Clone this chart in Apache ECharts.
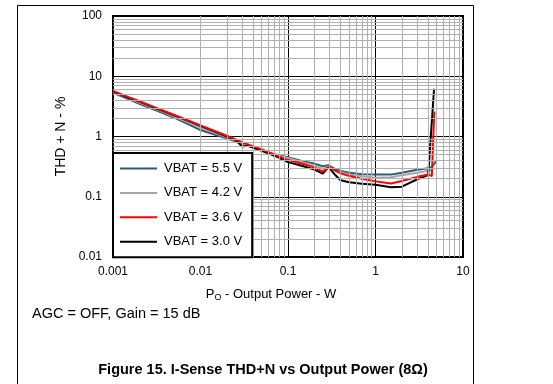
<!DOCTYPE html>
<html><head><meta charset="utf-8">
<script src="https://cdn.jsdelivr.net/npm/echarts@6/dist/echarts.min.js"></script>
<style>html,body{margin:0;padding:0;background:#fff}#c{width:553px;height:384px}</style>
</head><body><div id="c"></div>
<script>
// ---- data ----
const xTicks = [0.001, 0.01, 0.1, 1, 10];
const yTicks = [0.01, 0.1, 1, 10, 100];
const seriesNames = ['VBAT = 5.5 V', 'VBAT = 4.2 V', 'VBAT = 3.6 V', 'VBAT = 3.0 V'];
const seriesColors = ['#2f5a72', '#a6a6a6', '#ff0000', '#000000'];

const p55   = [0.001, 0.0015, 0.002, 0.003, 0.005, 0.007, 0.01, 0.015, 0.02, 0.03, 0.05, 0.07, 0.1, 0.15, 0.2, 0.25, 0.29, 0.35, 0.4, 0.5, 0.7, 1, 1.5, 2, 3, 4, 4.4, 5];
const thd55 = [5.3, 4.16, 3.5, 2.77, 2.05, 1.63, 1.28, 1.06, 0.93, 0.76, 0.59, 0.51, 0.455, 0.385, 0.355, 0.32, 0.335, 0.285, 0.267, 0.25, 0.237, 0.233, 0.233, 0.25, 0.28, 0.297, 0.31, 0.40];

const p42   = [0.001, 0.0015, 0.002, 0.003, 0.005, 0.007, 0.01, 0.015, 0.02, 0.03, 0.05, 0.07, 0.1, 0.15, 0.2, 0.25, 0.29, 0.35, 0.4, 0.5, 0.7, 1, 1.5, 2, 3, 4, 4.4];
const thd42 = [5.5, 4.35, 3.65, 2.9, 2.15, 1.75, 1.4, 1.13, 0.97, 0.78, 0.6, 0.5, 0.44, 0.37, 0.33, 0.29, 0.32, 0.265, 0.255, 0.235, 0.218, 0.207, 0.21, 0.227, 0.25, 0.27, 0.275];

const p36   = [0.001, 0.0015, 0.002, 0.003, 0.005, 0.007, 0.01, 0.015, 0.02, 0.03, 0.05, 0.07, 0.1, 0.15, 0.2, 0.25, 0.29, 0.34, 0.4, 0.47, 0.67, 1, 1.5, 2, 3, 4, 4.4, 4.5, 4.7];
const thd36 = [5.7, 4.5, 3.85, 3.05, 2.27, 1.88, 1.53, 1.21, 1.03, 0.8, 0.61, 0.5, 0.406, 0.35, 0.304, 0.26, 0.31, 0.276, 0.244, 0.228, 0.201, 0.18, 0.166, 0.183, 0.214, 0.234, 0.22, 0.21, 2.6];

const p30   = [0.001, 0.0015, 0.002, 0.003, 0.005, 0.007, 0.01, 0.015, 0.02, 0.025, 0.03, 0.035, 0.05, 0.07, 0.1, 0.15, 0.2, 0.25, 0.29, 0.34, 0.4, 0.5, 0.7, 1, 1.5, 2, 3, 4, 4.1, 4.67];
const thd30 = [5.6, 4.4, 3.8, 3.0, 2.25, 1.85, 1.5, 1.18, 1.0, 0.88, 0.68, 0.7, 0.58, 0.48, 0.376, 0.32, 0.282, 0.242, 0.31, 0.237, 0.188, 0.174, 0.165, 0.158, 0.144, 0.147, 0.195, 0.228, 0.24, 6.2];

// ---- minor grid positions (2..9 per decade) ----
const minorMult = [2, 3, 4, 5, 6, 7, 8, 9];
const xMinor = [], yMinor = [];
[0.001, 0.01, 0.1, 1].forEach(d => minorMult.forEach(m => xMinor.push(+(m * d).toPrecision(6))));
[0.01, 0.1, 1, 10].forEach(d => minorMult.forEach(m => yMinor.push(+(m * d).toPrecision(6))));

const FONT = "'Liberation Sans', Arial, sans-serif";
const fmt = v => String(+(+v).toPrecision(6));

const chart = echarts.init(document.getElementById('c'), null, {renderer: 'canvas'});

const dataSets = [[p55, thd55], [p42, thd42], [p36, thd36], [p30, thd30]];
const drawOrder = [0, 1, 3, 2];
const curveSeries = drawOrder.map(i => ({
  name: seriesNames[i],
  type: 'line',
  data: dataSets[i][0].map((p, k) => [p, dataSets[i][1][k]]),
  symbol: 'none',
  showSymbol: false,
  lineStyle: {color: seriesColors[i], width: 2},
  itemStyle: {color: seriesColors[i]},
  z: 3,
  animation: false
}));

const option = {
  animation: false,
  backgroundColor: '#ffffff',
  grid: {left: 113, top: 16, width: 350, height: 241, show: true, borderColor: '#000', borderWidth: 2, backgroundColor: 'transparent'},
  xAxis: {
    type: 'log', logBase: 10, min: xTicks[0], max: xTicks[xTicks.length - 1],
    name: '{p|P}{s|O}{p| - Output Power - W}',
    nameLocation: 'middle', nameGap: 29,
    nameTextStyle: {padding: [0, 34, 0, 0], rich: {
      p: {fontFamily: FONT, fontSize: 13, color: '#000', lineHeight: 16},
      s: {fontFamily: FONT, fontSize: 9, color: '#000', lineHeight: 16, padding: [7, 0, 0, 0]}
    }},
    axisLine: {show: false}, axisTick: {show: false},
    axisLabel: {fontFamily: FONT, fontSize: 12, color: '#000', margin: 9, formatter: fmt},
    splitLine: {show: true, lineStyle: {color: '#000', width: 1}}
  },
  yAxis: {
    type: 'log', logBase: 10, min: yTicks[0], max: yTicks[yTicks.length - 1],
    name: 'THD + N - %', nameLocation: 'middle', nameGap: 42,
    nameTextStyle: {fontFamily: FONT, fontSize: 14, color: '#000'},
    axisLine: {show: false}, axisTick: {show: false},
    axisLabel: {fontFamily: FONT, fontSize: 12, color: '#000', margin: 11, formatter: fmt},
    splitLine: {show: true, lineStyle: {color: '#000', width: 1}}
  },
  legend: {
    data: seriesNames,
    orient: 'vertical', left: 113, top: 153,
    icon: 'rect',
    itemWidth: 37, itemHeight: 2, itemGap: 11.4,
    padding: [9, 10, 9, 7],
    backgroundColor: '#fff', borderColor: '#000', borderWidth: 2, borderRadius: 0,
    textStyle: {fontFamily: FONT, fontSize: 13, color: '#000', padding: [0, 0, 0, 2]},
    selectedMode: false,
    z: 10
  },
  series: [
    {
      type: 'line', data: [], z: 1, silent: true,
      markLine: {
        silent: true, symbol: ['none', 'none'], animation: false,
        label: {show: false},
        lineStyle: {color: '#b0b0b0', width: 1, type: 'solid'},
        emphasis: {disabled: true},
        data: xMinor.map(v => ({xAxis: v})).concat(yMinor.map(v => ({yAxis: v})))
      }
    }
  ].concat(curveSeries),
  graphic: [
    {type: 'line', shape: {x1: 17.5, y1: 5.5, x2: 473.5, y2: 5.5}, style: {stroke: '#000', lineWidth: 1}},
    {type: 'line', shape: {x1: 17.5, y1: 5.5, x2: 17.5, y2: 384}, style: {stroke: '#000', lineWidth: 1}},
    {type: 'line', shape: {x1: 473.5, y1: 5.5, x2: 473.5, y2: 384}, style: {stroke: '#000', lineWidth: 1}},
    {type: 'text', left: 32, top: 306, style: {text: 'AGC = OFF, Gain = 15 dB', font: '14.5px ' + FONT, fill: '#000'}},
    {type: 'text', x: 263, y: 370, style: {text: 'Figure 15. I-Sense THD+N vs Output Power (8Ω)', font: 'bold 14.5px ' + FONT, fill: '#000', align: 'center', verticalAlign: 'middle'}}
  ]
};
chart.setOption(option);
</script>
</body></html>
